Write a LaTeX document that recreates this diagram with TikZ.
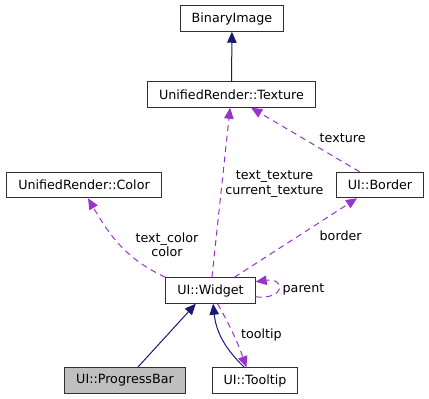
\documentclass[tikz,border=0pt]{standalone}
\usepackage{fontspec}
\setmainfont{DejaVu Sans}
\usetikzlibrary{arrows.meta, positioning}
\definecolor{inheritblue}{RGB}{25,25,112}
\definecolor{usagepurple}{RGB}{154,50,205}
\definecolor{boxborder}{RGB}{48,48,48}
\definecolor{focusgray}{RGB}{191,191,191}

\begin{document}
\begin{tikzpicture}[
    x=1pt, y=1pt,
    cls/.style={draw=boxborder, line width=1pt, fill=white, minimum height=25.5pt, inner xsep=11.5pt, inner ysep=0pt, font=\fontsize{12.7}{14.5}\selectfont},
    focus/.style={cls, fill=focusgray},
    inherits/.style={-{Triangle[length=11pt, width=9.5pt]}, line width=1pt, inheritblue},
    uses/.style={-{Triangle[length=11pt, width=9.5pt]}, line width=1pt, usagepurple, dash pattern=on 6pt off 4.5pt},
    lbl/.style={font=\fontsize{12.7}{14.5}\selectfont, align=center, inner sep=3pt, text=black}
]
    \useasboundingbox (0,0) rectangle (429,-399);

    % Classes
    \node[cls] (binimage) at (232,-18.5) {BinaryImage};
    \node[cls] (texture) at (231.5,-94.5) {UnifiedRender::Texture};
    \node[cls] (color) at (84,-185) {UnifiedRender::Color};
    \node[cls] (border) at (380,-185) {UI::Border};
    \node[cls] (widget) at (210.5,-290.5) {UI::Widget};
    \node[focus] (progressbar) at (125,-380.5) {UI::ProgressBar};
    \node[cls] (tooltip) at (255,-380.5) {UI::Tooltip};

    % Inheritance
    \draw[inherits] (texture) -- (binimage);
    \draw[inherits] (progressbar.46) -- (widget.222);
    \draw[inherits] (tooltip.129) to[bend left=20] (widget.-79);

    % Usage (members)
    \draw[uses] (border.147) -- node[pos=0.52, right=13pt, lbl] {texture} (texture.-34);
    \draw[uses] (widget) -- node[pos=0.55, right=0pt, lbl] {text\_texture\\current\_texture} (texture);
    \draw[uses] (widget.29) -- node[pos=0.52, right=18pt, lbl] {border} (border.210);
    \draw[uses] (widget.north west) to[out=155, in=-60] node[pos=0.5, right=12pt, lbl] {text\_color\\color} (color.-73);
    \draw[uses] (widget.-62) to[bend left=5] node[pos=0.5, right=4pt, lbl] {tooltip} (tooltip.123);
    \draw[uses] (widget.-8) .. controls +(30,-3) and +(30,4) .. node[pos=0.5, right=1pt, lbl] {parent} (widget.11);
\end{tikzpicture}
\end{document}
